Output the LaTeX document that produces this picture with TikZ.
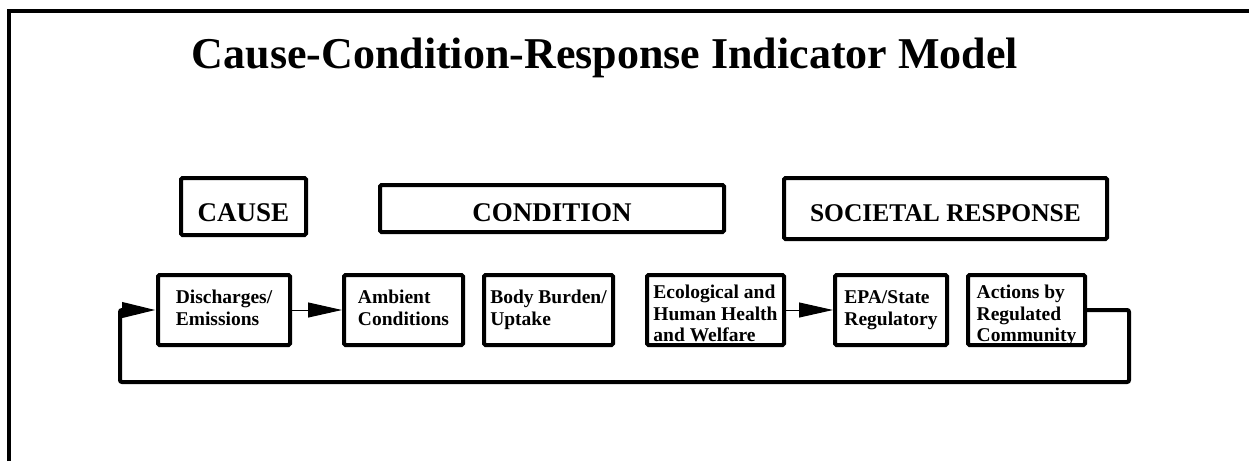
\documentclass[tikz,border=0pt]{standalone}
\usepackage{fontspec}
\setmainfont{Liberation Serif}
\usetikzlibrary{arrows.meta, positioning}
\tikzstyle{block}=[draw,fill=white,rectangle,line width=4pt,rounded corners=1.5pt]
\tikzstyle{stage}=[block,inner sep=0pt,font=\fontsize{27}{30}\selectfont\bfseries]
\tikzstyle{indic}=[block,minimum height=70pt,inner sep=0pt,align=left,text height=35pt,text depth=5pt,font=\fontsize{19.5}{22}\selectfont\bfseries]
\tikzstyle{indic3}=[indic,text height=63pt,text depth=0pt,font=\fontsize{19.5}{21.5}\selectfont\bfseries]
\tikzstyle{every node}=[font=\bfseries]

\begin{document}
\begin{tikzpicture}[x=1pt,y=-1pt,>={Triangle[length=34pt,width=15pt]}]
  \useasboundingbox (0,0) rectangle (1249,461);
  \draw[line width=4pt] (9,461) -- (9,11) -- (1249,11);
  \node[anchor=base, font=\fontsize{44}{50}\selectfont\bfseries] (title) at (605,68) {Cause-Condition-Response Indicator Model};
  % top row
  \node[stage, anchor=base, minimum width=125pt, text height=43pt, text depth=14pt] (cause) at (243.5,221) {CAUSE};
  \node[stage, anchor=base, minimum width=344pt, text height=36pt, text depth=11pt] (cond) at (552,221) {CONDITION};
  \node[stage, anchor=base, minimum width=323pt, text height=43pt, text depth=18pt, font=\fontsize{25.5}{30}\selectfont\bfseries] (resp) at (945.5,221) {SOCIETAL RESPONSE};
  % indicators
  \node[indic, minimum width=132pt] (disch) at (224,310) {Discharges/\\Emissions};
  \node[indic, minimum width=119pt, right=50pt of disch] (amb) {Ambient\\Conditions};
  \node[indic, minimum width=129pt, right=17pt of amb] (body) {Body Burden/\\Uptake};
  \node[indic3, minimum width=137pt, right=30pt of body] (eco) {Ecological and\\Human Health\\and Welfare};
  \node[indic, minimum width=112pt, right=47pt of eco] (epa) {EPA/State\\Regulatory};
  \node[indic3, minimum width=117pt, right=17pt of epa] (act) {Actions by\\Regulated\\Community};
  \draw[->, line width=1pt] (disch) -- (amb);
  \draw[->, line width=1pt] (eco) -- (epa);
  % feedback loop
  \coordinate (loopr) at (1129,382);
  \coordinate (loopl) at (120,382);
  \draw[->, line width=4pt, rounded corners=2pt] (act.east) -| (loopr) -- (loopl) |- (disch.west);
\end{tikzpicture}
\end{document}
